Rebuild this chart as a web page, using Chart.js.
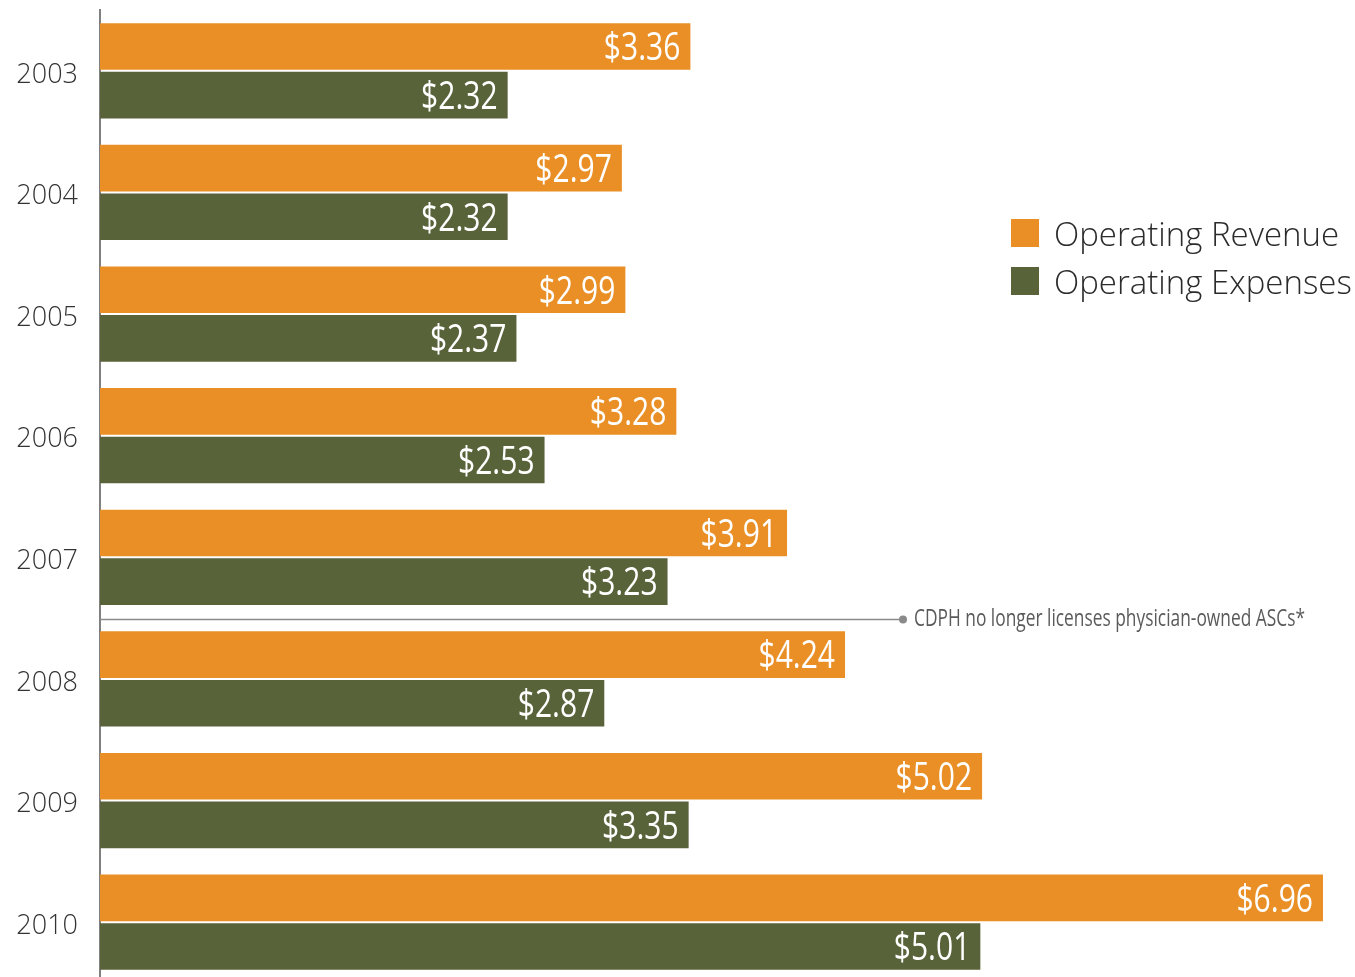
<!DOCTYPE html>
<html>
<head>
<meta charset="utf-8">
<script src="https://cdn.jsdelivr.net/npm/chart.js@4"></script>
<style>
  html, body { margin: 0; padding: 0; background: #fff; overflow: hidden; }
  .wrap { position: relative; width: 1355px; height: 993px; }
  .legend { position: absolute; left: 1011px; top: 209px; font-family: 'Open Sans', sans-serif; font-weight: 300; font-size: 33px; color: #2b2b2b; }
  .legend div { display: flex; align-items: center; height: 48px; white-space: nowrap; }
  .legend span { display: inline-block; width: 28px; height: 28px; margin-right: 15px; }
</style>
</head>
<body>
<div class="wrap">
  <canvas id="chart"></canvas>
  <div class="legend">
    <div><span style="background:#E98F25"></span>Operating Revenue</div>
    <div><span style="background:#58633A"></span>Operating Expenses</div>
  </div>
</div>
<script>
  // values in $ billions
  const years = ['2003', '2004', '2005', '2006', '2007', '2008', '2009', '2010'];
  const revenue = [3.36, 2.97, 2.99, 3.28, 3.91, 4.24, 5.02, 6.96];
  const expenses = [2.32, 2.32, 2.37, 2.53, 3.23, 2.87, 3.35, 5.01];
  const noteText = 'CDPH no longer licenses physician-owned ASCs*';

  const ORANGE = '#E98F25';
  const GREEN = '#58633A';

  // draws text squeezed horizontally (no condensed face installed)
  function narrowText(ctx, text, x, y, sx) {
    ctx.save();
    ctx.translate(x, y);
    ctx.scale(sx, 1);
    ctx.fillText(text, 0, 0);
    ctx.restore();
  }

  /* value labels inside bar ends */
  const valueLabels = {
    id: 'valueLabels',
    afterDatasetsDraw(chart) {
      const ctx = chart.ctx;
      ctx.save();
      ctx.font = "38px 'Open Sans', sans-serif";
      ctx.fillStyle = '#fff';
      ctx.textAlign = 'right';
      ctx.textBaseline = 'middle';
      chart.data.datasets.forEach((ds, i) => {
        chart.getDatasetMeta(i).data.forEach((bar, j) => {
          narrowText(ctx, '$' + ds.data[j].toFixed(2), bar.x - 10, bar.y + 3, 0.79);
        });
      });
      ctx.restore();
    }
  };

  /* note line between 2007 and 2008 */
  const noteLine = {
    id: 'noteLine',
    afterDatasetsDraw(chart) {
      const ctx = chart.ctx;
      const y = chart.scales.y;
      const py = Math.round((y.getPixelForTick(4) + y.getPixelForTick(5)) / 2) + 1.5;
      const x0 = chart.chartArea.left;
      const xDot = 903;
      ctx.save();
      ctx.strokeStyle = '#8a8a8a';
      ctx.lineWidth = 1.5;
      ctx.beginPath();
      ctx.moveTo(x0, py);
      ctx.lineTo(xDot, py);
      ctx.stroke();
      ctx.fillStyle = '#8a8a8a';
      ctx.beginPath();
      ctx.arc(xDot, py, 4, 0, Math.PI * 2);
      ctx.fill();
      ctx.font = "23px 'Open Sans', sans-serif";
      ctx.fillStyle = '#5a5a5a';
      ctx.textAlign = 'left';
      ctx.textBaseline = 'middle';
      const w = ctx.measureText(noteText).width;
      narrowText(ctx, noteText, 914, py, 391 / w);
      ctx.restore();
    }
  };

  new Chart(document.getElementById('chart'), {
    type: 'bar',
    data: {
      labels: years,
      datasets: [
        { label: 'Operating Revenue', data: revenue, backgroundColor: ORANGE },
        { label: 'Operating Expenses', data: expenses, backgroundColor: GREEN }
      ]
    },
    options: {
      indexAxis: 'y',
      responsive: true,
      maintainAspectRatio: false,
      animation: false,
      categoryPercentage: 0.8,
      barPercentage: 0.96,
      layout: { autoPadding: false, padding: { top: 10, bottom: 10, right: 25, left: 0 } },
      plugins: { legend: { display: false }, tooltip: { enabled: false } },
      scales: {
        x: { display: false, min: 0, max: 7 },
        y: {
          // fixed axis width, no extra label padding top/bottom
          afterFit: s => { s.width = 100; s.paddingTop = 0; s.paddingBottom = 0; },
          grid: { display: false, drawTicks: false },
          border: { display: true, color: '#808080', width: 2 },
          ticks: {
            padding: 22,
            labelOffset: 4,
            color: '#333',
            font: { family: "'Open Sans', sans-serif", size: 27, weight: 300 }
          }
        }
      }
    },
    plugins: [valueLabels, noteLine]
  });
</script>
</body>
</html>
